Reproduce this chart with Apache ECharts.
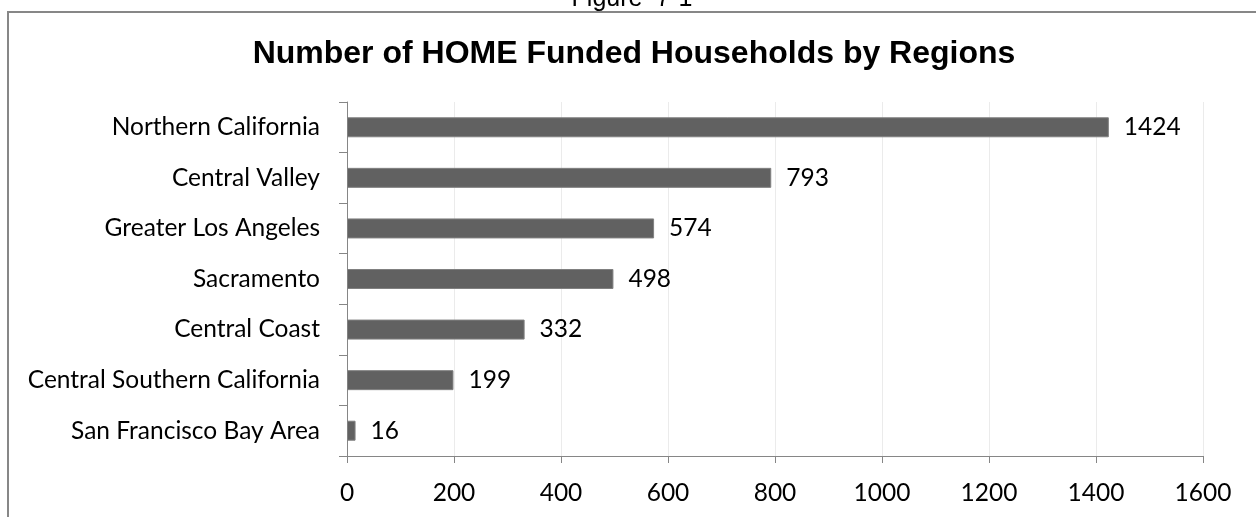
<!DOCTYPE html>
<html>
<head>
<meta charset="utf-8">
<title>Number of HOME Funded Households by Regions</title>
<script src="https://cdn.jsdelivr.net/npm/echarts@6/dist/echarts.min.js"></script>
<style>
  html, body { margin: 0; padding: 0; background: #ffffff; }
  #chart { width: 1256px; height: 517px; }
</style>
</head>
<body>
<div id="chart"></div>
<script>
// Regions, top to bottom as listed
const regions = [
  'Northern California',
  'Central Valley',
  'Greater Los Angeles',
  'Sacramento',
  'Central Coast',
  'Central Southern California',
  'San Francisco Bay Area'
];
// HOME funded households per region
const households = [1424, 793, 574, 498, 332, 199, 16];
// Value axis range and step
const axisMin = 0;
const axisMax = 1600;
const axisStep = 200;

const labelFont = 'Lato, "Open Sans", sans-serif';
const chart = echarts.init(document.getElementById('chart'), null, { renderer: 'canvas' });

chart.setOption({
  backgroundColor: '#ffffff',
  animation: false,
  title: [
    {
      text: 'Figure  7-1',
      left: 632,
      top: -13,
      padding: 0,
      textAlign: 'center',
      textStyle: { fontFamily: '"Liberation Sans", Arial, sans-serif', fontSize: 25, fontWeight: 'normal', color: '#000000' }
    },
    {
      text: 'Number of HOME Funded Households by Regions',
      left: 634,
      top: 38,
      padding: 0,
      textAlign: 'center',
      textStyle: { fontFamily: '"Liberation Sans", Arial, sans-serif', fontSize: 32, fontWeight: 'bold', color: '#000000' }
    }
  ],
  graphic: [
    {
      type: 'rect',
      silent: true,
      shape: { x: 8, y: 12, width: 1400, height: 700 },
      style: { fill: 'none', stroke: '#878787', lineWidth: 2 }
    }
  ],
  grid: { left: 347, right: 53, top: 102, bottom: 61, containLabel: false, outerBoundsMode: 'none' },
  xAxis: {
    type: 'value',
    min: axisMin,
    max: axisMax,
    interval: axisStep,
    axisLine: { show: true, lineStyle: { color: '#868686', width: 1 } },
    axisTick: { show: true, length: 7, lineStyle: { color: '#868686' } },
    splitLine: { show: true, lineStyle: { color: '#ebebeb', width: 1 } },
    axisLabel: {
      margin: 24,
      verticalAlign: 'top',
      lineHeight: 26,
      fontFamily: labelFont,
      fontSize: 24.5,
      color: '#000000',
      formatter: (v) => String(v)
    }
  },
  yAxis: {
    type: 'category',
    inverse: true,
    data: regions,
    axisLine: { show: true, lineStyle: { color: '#868686', width: 1 } },
    axisTick: { show: true, length: 8, alignWithLabel: false, lineStyle: { color: '#868686' } },
    splitLine: { show: false },
    axisLabel: { margin: 27, fontFamily: labelFont, fontSize: 24.5, color: '#000000' }
  },
  series: [
    {
      type: 'bar',
      data: households,
      barWidth: 20,
      itemStyle: { color: '#616161', borderColor: '#808080', borderWidth: 1 },
      label: {
        show: true,
        position: 'right',
        distance: 15,
        fontFamily: labelFont,
        fontSize: 24.5,
        color: '#000000'
      }
    }
  ]
});
</script>
</body>
</html>
